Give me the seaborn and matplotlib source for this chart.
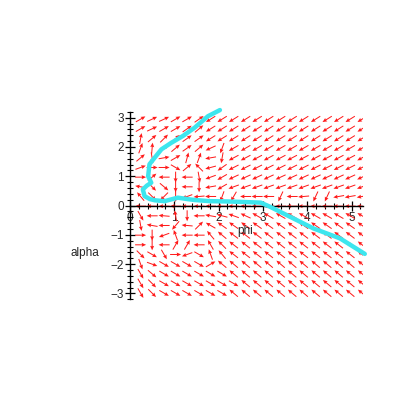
import numpy as np
import pandas as pd
import seaborn as sns
import matplotlib
matplotlib.use("Agg")
import matplotlib.pyplot as plt

# direction field grid
phi_cols = [0.24, 0.50, 0.77, 1.03, 1.29, 1.56, 1.82, 2.08, 2.34, 2.61,
            2.87, 3.13, 3.40, 3.66, 3.92, 4.19, 4.45, 4.71, 4.97, 5.24]
alpha_rows = [2.95, 2.62, 2.29, 1.96, 1.63, 1.30, 0.97, 0.64, 0.31, -0.02,
              -0.35, -0.68, -1.01, -1.34, -1.67, -2.00, -2.33, -2.66, -2.99]

# arrow direction on screen, degrees, one list per row (top to bottom)
arrow_angles = [
    [30, 25, 25, 30, 30, 35, 212, 212, 212, 212, 212, 212, 212, 212, 212, 212, 212, 212, 212, 212],
    [30, 25, 30, 30, 35, 40, 212, 212, 212, 212, 212, 212, 212, 212, 212, 212, 212, 212, 212, 212],
    [80, 40, 45, 40, 35, 35, 212, 212, 212, 212, 212, 212, 212, 212, 212, 212, 212, 212, 212, 212],
    [70, 85, 40, 40, 35, 40, 205, 250, 210, 210, 210, 210, 210, 210, 210, 210, 210, 210, 210, 210],
    [40, 280, 10, 30, 75, 70, 190, 260, 208, 208, 208, 208, 208, 208, 208, 208, 208, 208, 208, 208],
    [20, 0, 0, 330, 40, 135, 195, 215, 207, 207, 207, 207, 207, 207, 207, 207, 207, 207, 207, 207],
    [0, 40, 180, 270, 180, 280, 200, 210, 205, 205, 205, 205, 205, 205, 205, 205, 205, 205, 205, 205],
    [170, 315, 320, 270, 180, 270, 190, 210, 200, 200, 200, 200, 200, 200, 200, 200, 200, 200, 200, 200],
    [130, 315, 225, 270, 200, 185, 180, 250, 240, 180, 180, 180, 245, 180, 185, 245, 245, 190, 190, 190],
    [180, 180, 180, 180, 180, 180, 180, 180, 180, 180, 180, 180, 180, 180, 180, 180, 180, 180, 180, 180],
    [300, 180, 175, 100, 270, 180, 170, 165, 160, 155, 150, 150, 150, 150, 150, 150, 150, 150, 150, 150],
    [280, 170, 180, 230, 175, 45, 150, 145, 145, 145, 145, 145, 145, 145, 145, 145, 145, 145, 145, 145],
    [0, 270, 200, 110, 180, 180, 130, 140, 143, 143, 143, 143, 143, 143, 143, 143, 143, 143, 143, 143],
    [0, 270, 180, 60, 60, 180, 120, 135, 142, 142, 142, 142, 142, 142, 142, 142, 142, 142, 142, 142],
    [315, 330, 300, 0, 200, 330, 110, 130, 142, 142, 142, 142, 142, 142, 142, 142, 142, 142, 142, 142],
    [290, 340, 330, 330, 330, 330, 30, 140, 140, 140, 140, 140, 140, 140, 140, 140, 140, 140, 140, 140],
    [300, 320, 330, 330, 330, 330, 330, 330, 140, 140, 140, 140, 140, 140, 140, 140, 140, 140, 140, 140],
    [300, 315, 330, 330, 330, 330, 330, 330, 330, 140, 140, 140, 140, 140, 140, 140, 140, 140, 140, 140],
    [300, 315, 330, 330, 330, 330, 330, 330, 140, 140, 140, 140, 140, 140, 140, 140, 140, 140, 140, 140],
]

# cyan solution curve
curve_phi = [2.03, 1.76, 1.46, 1.20, 0.93, 0.71, 0.55, 0.44, 0.41, 0.48, 0.38, 0.29, 0.33,
             0.45, 0.56, 0.78, 1.08, 1.30, 1.46, 1.80, 2.20, 2.60, 2.95, 3.16, 3.61, 4.14, 4.74, 5.30]
curve_alpha = [3.26, 3.05, 2.66, 2.38, 2.14, 1.92, 1.62, 1.41, 1.00, 0.78, 0.68, 0.55, 0.32,
               0.22, 0.18, 0.15, 0.27, 0.22, 0.19, 0.15, 0.14, 0.12, 0.10, -0.04, -0.38, -0.78, -1.12, -1.65]

sns.set_style("ticks")
plt.rcParams["font.family"] = ["Liberation Sans", "DejaVu Sans"]

fig = plt.figure(figsize=(4.09, 4.09), dpi=100)
ax = fig.add_axes([0.3178, 0.2682, 0.5687, 0.4584])

X, Y = np.meshgrid(phi_cols, alpha_rows)
ang = np.radians(np.array(arrow_angles, dtype=float))
ax.quiver(X, Y, np.cos(ang), np.sin(ang), angles="uv", pivot="middle",
          units="dots", scale_units="dots", scale=1 / 11, width=1.0,
          headwidth=4, headlength=4.5, headaxislength=4, color="#ff1a1a")

df = pd.DataFrame({"phi": curve_phi, "alpha": curve_alpha})
sns.lineplot(data=df, x="phi", y="alpha", sort=False, estimator=None,
             color="#3de6ee", linewidth=3.2, ax=ax, clip_on=False, zorder=3)

ax.set_xlim(0, 5.25)
ax.set_ylim(-3.2, 3.2)
for s in ["top", "right"]:
    ax.spines[s].set_visible(False)
for s in ["left", "bottom"]:
    ax.spines[s].set_position(("data", 0))
    ax.spines[s].set_color("black")
    ax.spines[s].set_linewidth(1.0)

ax.set_xticks([0, 1, 2, 3, 4, 5])
ax.set_yticks([-3, -2, -1, 0, 1, 2, 3])
ax.set_xticks(np.arange(0, 5.3, 0.2), minor=True)
ax.set_yticks(np.arange(-3.2, 3.3, 0.2), minor=True)
ax.tick_params(which="both", bottom=True, left=True, color="black")
ax.tick_params(which="major", direction="inout", length=7, width=0.9, labelsize=8.5, pad=1)
ax.tick_params(which="minor", direction="inout", length=4, width=0.8)
ax.set_xlabel("")
ax.set_ylabel("")
ax.text(2.6, -0.87, "phi", fontsize=8.5, ha="center", va="center")
ax.text(-1.02, -1.62, "alpha", fontsize=8.5, ha="center", va="center", clip_on=False)

fig.savefig("out.png", dpi=100, facecolor="white")
